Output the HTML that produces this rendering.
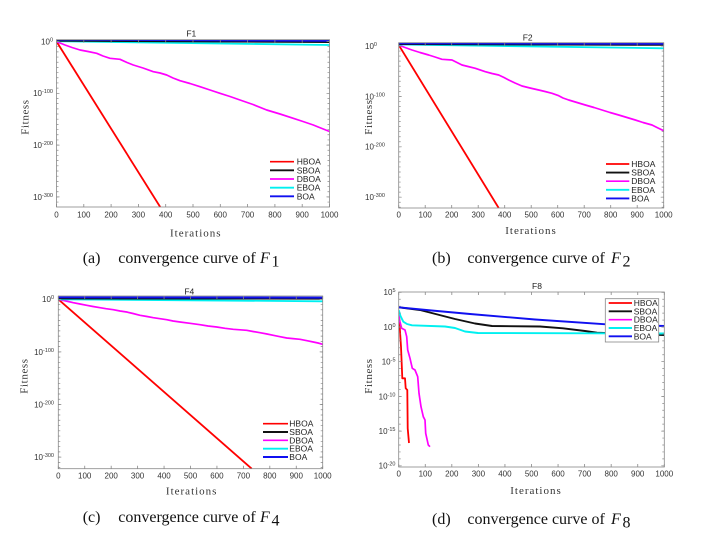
<!DOCTYPE html>
<html><head><meta charset="utf-8"><style>
html,body{margin:0;padding:0;background:#fff;}
svg{display:block;}
.t{font-family:"Liberation Sans",sans-serif;font-size:8px;fill:#333;}
.lg{font-family:"Liberation Sans",sans-serif;font-size:8.5px;fill:#222;}
.ti{font-family:"Liberation Sans",sans-serif;font-size:8.5px;fill:#222;}
.it{font-family:"Liberation Serif",serif;font-size:11px;fill:#333;letter-spacing:1px;}
.cap{font-family:"Liberation Serif",serif;font-size:16px;fill:#111;}
.box{fill:none;stroke:#888;stroke-width:0.8;}
.tk{stroke:#888;fill:none;}
.s{fill:none;stroke-linejoin:round;stroke-linecap:butt;}
</style></head><body>
<svg width="704" height="544" viewBox="0 0 704 544" xmlns="http://www.w3.org/2000/svg">
<defs>
<clipPath id="ca"><rect x="56.5" y="39.7" width="273" height="167.3"/></clipPath>
<clipPath id="cb"><rect x="398.7" y="42.7" width="265" height="165.3"/></clipPath>
<clipPath id="cc"><rect x="58.3" y="296" width="264.4" height="172.7"/></clipPath>
<clipPath id="cd"><rect x="398.7" y="292" width="265.6" height="175"/></clipPath>
</defs>

<!-- ================= PANEL A ================= -->
<g clip-path="url(#ca)">
<polyline class="s" stroke="#ff0000" stroke-width="1.8" points="56.5,41.5 160.2,207"/>
<polyline class="s" stroke="#ff00ff" stroke-width="1.7" points="56.7,41.7 65,45 72,47.5 80,50 88,51.5 96.7,53.3 103,56 110,58.3 120,59.3 127,62.5 133.3,65 143,68 153.3,71.7 160,73 166.7,75 173,78 180,80.7 190,83.5 200,86.7 210,90 220,93.3 230,96.5 240,100 253,104.5 266.7,110 280,114 293.3,118.3 303,121.5 313.3,125 322,128.5 330,131.7"/>
<polyline class="s" stroke="#00f0f0" stroke-width="1.8" points="56.5,41.2 329.5,45"/>
<polyline class="s" stroke="#111" stroke-width="2" points="56.5,40.6 329.5,42"/>
<polyline class="s" stroke="#1010f0" stroke-width="2" points="56.5,39.6 329.5,40.8"/>
</g>
<rect class="box" x="56.5" y="39.7" width="273" height="167.3"/>
<line class="tk" x1="57.5" y1="41.15" x2="57.5" y2="207" stroke-width="2" stroke-dasharray="0.7 4.48"/>
<line class="tk" x1="58" y1="41.15" x2="58" y2="207" stroke-width="3" stroke-dasharray="0.7 51.1"/>
<line class="tk" x1="328.5" y1="41.15" x2="328.5" y2="207" stroke-width="2" stroke-dasharray="0.7 4.48"/>
<line class="tk" x1="328" y1="41.15" x2="328" y2="207" stroke-width="3" stroke-dasharray="0.7 51.1"/>
<line class="tk" x1="56.1" y1="205.5" x2="330" y2="205.5" stroke-width="3" stroke-dasharray="0.8 26.5"/>
<line class="tk" x1="56.1" y1="41.2" x2="330" y2="41.2" stroke-width="3" stroke-dasharray="0.8 26.5"/>
<text class="ti" x="191.3" y="36.3" text-anchor="middle">F1</text>
<g class="t" text-anchor="middle">
<text x="56.5" y="217.5">0</text><text x="83.8" y="217.5">100</text><text x="111.1" y="217.5">200</text><text x="138.4" y="217.5">300</text><text x="165.7" y="217.5">400</text><text x="193" y="217.5">500</text><text x="220.3" y="217.5">600</text><text x="247.6" y="217.5">700</text><text x="274.9" y="217.5">800</text><text x="302.2" y="217.5">900</text><text x="329.5" y="217.5">1000</text>
</g>
<g class="t" text-anchor="end">
<text x="53" y="44.4">10<tspan dy="-3" font-size="5.5">0</tspan></text>
<text x="53" y="96.2">10<tspan dy="-3" font-size="5.5">-100</tspan></text>
<text x="53" y="148">10<tspan dy="-3" font-size="5.5">-200</tspan></text>
<text x="53" y="199.8">10<tspan dy="-3" font-size="5.5">-300</tspan></text>
</g>
<text class="it" x="195.8" y="236.5" text-anchor="middle">Iterations</text>
<text class="it" transform="translate(28.5,117) rotate(-90)" text-anchor="middle" style="letter-spacing:0.6px">Fitness</text>
<g>
<line x1="270" y1="161.7" x2="294" y2="161.7" stroke="#ff0000" stroke-width="1.7"/>
<line x1="270" y1="170.3" x2="294" y2="170.3" stroke="#111" stroke-width="1.9"/>
<line x1="270" y1="179" x2="294" y2="179" stroke="#ff00ff" stroke-width="1.7"/>
<line x1="270" y1="187.7" x2="294" y2="187.7" stroke="#00f0f0" stroke-width="1.9"/>
<line x1="270" y1="196.3" x2="294" y2="196.3" stroke="#1010f0" stroke-width="1.9"/>
<text class="lg" x="296.7" y="164.7">HBOA</text>
<text class="lg" x="296.7" y="173.3">SBOA</text>
<text class="lg" x="296.7" y="182">DBOA</text>
<text class="lg" x="296.7" y="190.7">EBOA</text>
<text class="lg" x="296.7" y="199.3">BOA</text>
</g>
<text class="cap" x="82.7" y="263">(a)</text>
<text class="cap" x="118.3" y="263">convergence curve of</text>
<text class="cap" x="260" y="263" font-style="italic">F</text>
<text class="cap" x="271.5" y="266.5" font-size="10.5">1</text>

<!-- ================= PANEL B ================= -->
<g clip-path="url(#cb)">
<polyline class="s" stroke="#ff0000" stroke-width="1.8" points="398.7,45 498.7,208"/>
<polyline class="s" stroke="#ff00ff" stroke-width="1.7" points="398.7,45 405,47.5 412,50 420,52.5 428.7,55 435,57 442,59.3 452,60 457,62.5 462,65 468,66.5 475.3,68.3 485.3,71.7 492,73.5 498.7,75 504,77.5 508.7,80 515,83 522,86 530,88 538.7,90 545,91.5 552,93.3 558.7,95.7 563,98 568.7,100 577,102.5 585.3,105 594,107.5 602,110 610,112.5 618.7,115 627,117.5 635.3,120 643,122.5 652,125 658,128 663.7,130.7"/>
<polyline class="s" stroke="#00f0f0" stroke-width="1.8" points="398.7,44.5 663.7,48.3"/>
<polyline class="s" stroke="#111" stroke-width="2" points="398.7,44 663.7,44.8"/>
<polyline class="s" stroke="#1010f0" stroke-width="2" points="398.7,43.2 663.7,43.8"/>
</g>
<rect class="box" x="398.7" y="42.7" width="265" height="165.3"/>
<line class="tk" x1="399.7" y1="45.65" x2="399.7" y2="208" stroke-width="2" stroke-dasharray="0.7 4.34"/>
<line class="tk" x1="400.2" y1="45.65" x2="400.2" y2="208" stroke-width="3" stroke-dasharray="0.7 49.7"/>
<line class="tk" x1="662.7" y1="45.65" x2="662.7" y2="208" stroke-width="2" stroke-dasharray="0.7 4.34"/>
<line class="tk" x1="662.2" y1="45.65" x2="662.2" y2="208" stroke-width="3" stroke-dasharray="0.7 49.7"/>
<line class="tk" x1="398.3" y1="206.5" x2="664.2" y2="206.5" stroke-width="3" stroke-dasharray="0.8 25.7"/>
<line class="tk" x1="398.3" y1="44.2" x2="664.2" y2="44.2" stroke-width="3" stroke-dasharray="0.8 25.7"/>
<text class="ti" x="527.7" y="40.7" text-anchor="middle">F2</text>
<g class="t" text-anchor="middle">
<text x="398.7" y="217.5">0</text><text x="425.2" y="217.5">100</text><text x="451.7" y="217.5">200</text><text x="478.2" y="217.5">300</text><text x="504.7" y="217.5">400</text><text x="531.2" y="217.5">500</text><text x="557.7" y="217.5">600</text><text x="584.2" y="217.5">700</text><text x="610.7" y="217.5">800</text><text x="637.2" y="217.5">900</text><text x="663.7" y="217.5">1000</text>
</g>
<g class="t" text-anchor="start">
<text x="365" y="48.9">10<tspan dy="-3" font-size="5.5">0</tspan></text>
<text x="365" y="99.3">10<tspan dy="-3" font-size="5.5">-100</tspan></text>
<text x="365" y="149.7">10<tspan dy="-3" font-size="5.5">-200</tspan></text>
<text x="365" y="200.1">10<tspan dy="-3" font-size="5.5">-300</tspan></text>
</g>
<text class="it" x="531" y="234" text-anchor="middle">Iterations</text>
<text class="it" transform="translate(372,117) rotate(-90)" text-anchor="middle" style="letter-spacing:0.6px">Fitness</text>
<g>
<line x1="606" y1="164" x2="629.3" y2="164" stroke="#ff0000" stroke-width="1.7"/>
<line x1="606" y1="172.6" x2="629.3" y2="172.6" stroke="#111" stroke-width="1.9"/>
<line x1="606" y1="181.2" x2="629.3" y2="181.2" stroke="#ff00ff" stroke-width="1.7"/>
<line x1="606" y1="189.8" x2="629.3" y2="189.8" stroke="#00f0f0" stroke-width="1.9"/>
<line x1="606" y1="198.4" x2="629.3" y2="198.4" stroke="#1010f0" stroke-width="1.9"/>
<text class="lg" x="631.3" y="167">HBOA</text>
<text class="lg" x="631.3" y="175.6">SBOA</text>
<text class="lg" x="631.3" y="184.2">DBOA</text>
<text class="lg" x="631.3" y="192.8">EBOA</text>
<text class="lg" x="631.3" y="201.4">BOA</text>
</g>
<text class="cap" x="432" y="263">(b)</text>
<text class="cap" x="467.4" y="263">convergence curve of</text>
<text class="cap" x="611" y="263" font-style="italic">F</text>
<text class="cap" x="622.5" y="266.5" font-size="10.5">2</text>

<!-- ================= PANEL C ================= -->
<g clip-path="url(#cc)">
<polyline class="s" stroke="#ff0000" stroke-width="1.8" points="58.3,299.3 251.7,468.7"/>
<polyline class="s" stroke="#ff00ff" stroke-width="1.7" points="58.3,299.3 66,301 73.3,302.7 80,304 86.7,305.3 93,306.5 100,307.7 106,308.7 113.3,309.7 120,311 126.7,312 133,313.5 140,315.3 147,316.5 153.3,317.7 160,318.7 166.7,319.7 173,321 180,322 190,323.3 200,324.7 208,326 216.7,327 225,328.3 233.3,329.3 240,329.8 246.7,330.3 253,331.5 260,332.7 267,334 273.3,335.3 280,336.7 286.7,338 293,338.6 300,339.3 307,340.7 313.3,342 318,343 322.7,344.3"/>
<polyline class="s" stroke="#00f0f0" stroke-width="1.8" points="58.3,299.3 322.7,301.3"/>
<polyline class="s" stroke="#111" stroke-width="2" points="58.3,298.4 322.7,298.6"/>
<polyline class="s" stroke="#1010f0" stroke-width="2" points="58.3,297.3 322.7,297.6"/>
</g>
<rect class="box" x="58.3" y="296" width="264.4" height="172.7"/>
<line class="tk" x1="59.3" y1="298.95" x2="59.3" y2="468.7" stroke-width="2" stroke-dasharray="0.7 4.56"/>
<line class="tk" x1="59.8" y1="298.95" x2="59.8" y2="468.7" stroke-width="3" stroke-dasharray="0.7 51.9"/>
<line class="tk" x1="321.7" y1="298.95" x2="321.7" y2="468.7" stroke-width="2" stroke-dasharray="0.7 4.56"/>
<line class="tk" x1="321.2" y1="298.95" x2="321.2" y2="468.7" stroke-width="3" stroke-dasharray="0.7 51.9"/>
<line class="tk" x1="57.9" y1="467.2" x2="323.2" y2="467.2" stroke-width="3" stroke-dasharray="0.8 25.64"/>
<line class="tk" x1="57.9" y1="297.5" x2="323.2" y2="297.5" stroke-width="3" stroke-dasharray="0.8 25.64"/>
<text class="ti" x="189.3" y="294.3" text-anchor="middle">F4</text>
<g class="t" text-anchor="middle">
<text x="58.3" y="478.5">0</text><text x="84.7" y="478.5">100</text><text x="111.2" y="478.5">200</text><text x="137.6" y="478.5">300</text><text x="164.1" y="478.5">400</text><text x="190.5" y="478.5">500</text><text x="216.9" y="478.5">600</text><text x="243.4" y="478.5">700</text><text x="269.8" y="478.5">800</text><text x="296.3" y="478.5">900</text><text x="322.7" y="478.5">1000</text>
</g>
<g class="t" text-anchor="end">
<text x="54" y="302.2">10<tspan dy="-3" font-size="5.5">0</tspan></text>
<text x="54" y="354.8">10<tspan dy="-3" font-size="5.5">-100</tspan></text>
<text x="54" y="407.4">10<tspan dy="-3" font-size="5.5">-200</tspan></text>
<text x="54" y="460">10<tspan dy="-3" font-size="5.5">-300</tspan></text>
</g>
<text class="it" x="191.7" y="494.5" text-anchor="middle">Iterations</text>
<text class="it" transform="translate(27.5,376) rotate(-90)" text-anchor="middle" style="letter-spacing:0.6px">Fitness</text>
<g>
<line x1="263" y1="423.7" x2="288" y2="423.7" stroke="#ff0000" stroke-width="1.7"/>
<line x1="263" y1="432" x2="288" y2="432" stroke="#111" stroke-width="1.9"/>
<line x1="263" y1="440.3" x2="288" y2="440.3" stroke="#ff00ff" stroke-width="1.7"/>
<line x1="263" y1="448.7" x2="288" y2="448.7" stroke="#00f0f0" stroke-width="1.9"/>
<line x1="263" y1="457" x2="288" y2="457" stroke="#1010f0" stroke-width="1.9"/>
<text class="lg" x="289.3" y="426.7">HBOA</text>
<text class="lg" x="289.3" y="435">SBOA</text>
<text class="lg" x="289.3" y="443.3">DBOA</text>
<text class="lg" x="289.3" y="451.7">EBOA</text>
<text class="lg" x="289.3" y="460">BOA</text>
</g>
<text class="cap" x="82.7" y="522">(c)</text>
<text class="cap" x="118.3" y="522">convergence curve of</text>
<text class="cap" x="260" y="522" font-style="italic">F</text>
<text class="cap" x="271.5" y="525.5" font-size="10.5">4</text>

<!-- ================= PANEL D ================= -->
<g clip-path="url(#cd)">
<polyline class="s" stroke="#ff0000" stroke-width="1.8" points="398.7,312 399.5,323.3 401,346.7 402.3,378.3 405,378.3 405.7,388.3 407.3,390 407.7,428.3 409,443"/>
<polyline class="s" stroke="#111" stroke-width="1.9" points="398.7,307.3 420,310 431.7,313 455,319 475,323.5 492,326 540,326.5 563,328.3 585,331 597,332.7 664.3,335"/>
<polyline class="s" stroke="#ff00ff" stroke-width="1.7" points="398.7,312.7 399.5,320 401.7,328.3 405,330 406.7,336.7 407.7,350 410,358.3 412.3,368.3 415,370 417.7,376.7 419,393.3 421,406.7 423.3,416.7 425,420 425.7,433.3 428.3,445 430,446.7"/>
<polyline class="s" stroke="#00f0f0" stroke-width="1.9" points="398.7,310 400.5,316 403.3,321.7 407,324 412,325.3 445,326.5 455,328 465,331.5 478,333 664.3,333.5"/>
<polyline class="s" stroke="#1010f0" stroke-width="1.9" points="398.7,307.3 431.7,310.5 470,314 535,319.5 606,324.3 664.3,326"/>
</g>
<rect class="box" x="398.7" y="292" width="265.6" height="175"/>
<line class="tk" x1="399.7" y1="291.95" x2="399.7" y2="467" stroke-width="2" stroke-dasharray="0.7 6.24"/>
<line class="tk" x1="400.2" y1="291.95" x2="400.2" y2="467" stroke-width="3" stroke-dasharray="0.7 34"/>
<line class="tk" x1="663.3" y1="291.95" x2="663.3" y2="467" stroke-width="2" stroke-dasharray="0.7 6.24"/>
<line class="tk" x1="662.8" y1="291.95" x2="662.8" y2="467" stroke-width="3" stroke-dasharray="0.7 34"/>
<line class="tk" x1="398.3" y1="465.5" x2="664.8" y2="465.5" stroke-width="3" stroke-dasharray="0.8 25.76"/>
<line class="tk" x1="398.3" y1="293.5" x2="664.8" y2="293.5" stroke-width="3" stroke-dasharray="0.8 25.76"/>
<text class="ti" x="537" y="289" text-anchor="middle">F8</text>
<g class="t" text-anchor="middle">
<text x="398.7" y="476.3">0</text><text x="425.3" y="476.3">100</text><text x="451.8" y="476.3">200</text><text x="478.4" y="476.3">300</text><text x="504.9" y="476.3">400</text><text x="531.5" y="476.3">500</text><text x="558.1" y="476.3">600</text><text x="584.6" y="476.3">700</text><text x="611.2" y="476.3">800</text><text x="637.7" y="476.3">900</text><text x="664.3" y="476.3">1000</text>
</g>
<g class="t" text-anchor="end">
<text x="395.5" y="295.2">10<tspan dy="-3" font-size="5.5">5</tspan></text>
<text x="395.5" y="329.9">10<tspan dy="-3" font-size="5.5">0</tspan></text>
<text x="395.5" y="364.6">10<tspan dy="-3" font-size="5.5">-5</tspan></text>
<text x="395.5" y="399.3">10<tspan dy="-3" font-size="5.5">-10</tspan></text>
<text x="395.5" y="434">10<tspan dy="-3" font-size="5.5">-15</tspan></text>
<text x="395.5" y="468.7">10<tspan dy="-3" font-size="5.5">-20</tspan></text>
</g>
<text class="it" x="536" y="494" text-anchor="middle">Iterations</text>
<text class="it" transform="translate(372,376) rotate(-90)" text-anchor="middle" style="letter-spacing:0.6px">Fitness</text>
<g>
<rect x="605.3" y="298.7" width="53.4" height="43.3" fill="#fff" stroke="#888" stroke-width="0.8"/>
<line x1="608.7" y1="303" x2="632" y2="303" stroke="#ff0000" stroke-width="1.7"/>
<line x1="608.7" y1="311.3" x2="632" y2="311.3" stroke="#111" stroke-width="1.9"/>
<line x1="608.7" y1="319.7" x2="632" y2="319.7" stroke="#ff00ff" stroke-width="1.7"/>
<line x1="608.7" y1="328" x2="632" y2="328" stroke="#00f0f0" stroke-width="1.9"/>
<line x1="608.7" y1="336.3" x2="632" y2="336.3" stroke="#1010f0" stroke-width="1.9"/>
<text class="lg" x="633.7" y="306">HBOA</text>
<text class="lg" x="633.7" y="314.3">SBOA</text>
<text class="lg" x="633.7" y="322.7">DBOA</text>
<text class="lg" x="633.7" y="331">EBOA</text>
<text class="lg" x="633.7" y="339.3">BOA</text>
</g>
<text class="cap" x="432" y="524">(d)</text>
<text class="cap" x="467.4" y="524">convergence curve of</text>
<text class="cap" x="611" y="524" font-style="italic">F</text>
<text class="cap" x="622.5" y="527.5" font-size="10.5">8</text>
</svg>
</body></html>
